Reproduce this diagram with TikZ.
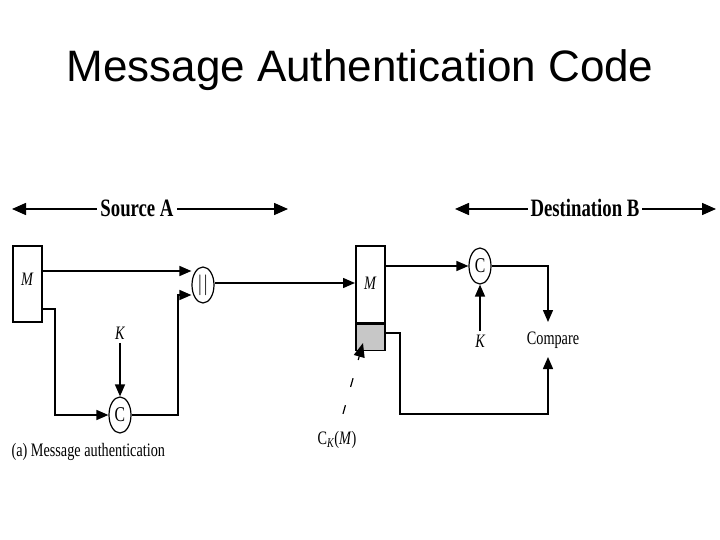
\documentclass[tikz,border=0pt]{standalone}
\usepackage{fontspec}
\setmainfont{Liberation Serif}
\newfontfamily\titlefont{Liberation Sans}
\newfontfamily\narrowfont[FakeStretch=0.75]{Liberation Serif}
\usetikzlibrary{shapes.geometric,arrows.meta,positioning,calc}

\tikzset{
  tip/.style={-{Triangle[length=12pt,width=10pt]}, line width=1.5pt},
  block/.style={rectangle, draw, line width=1.5pt, minimum width=29pt, inner sep=0pt},
  func/.style={ellipse, draw, line width=1.2pt, minimum width=22pt, minimum height=36pt, inner sep=0pt, font=\narrowfont\fontsize{21}{21}\selectfont},
  lbl/.style={font=\narrowfont\itshape\fontsize{19}{19}\selectfont},
  txt/.style={font=\narrowfont\fontsize{19}{19}\selectfont},
  party/.style={font=\narrowfont\bfseries\fontsize{25}{25}\selectfont, fill=white, inner sep=3pt},
  both/.style={{Triangle[length=14pt,width=12pt]}-{Triangle[length=14pt,width=12pt]}, line width=1.5pt}
}

\begin{document}
\begin{tikzpicture}[x=1pt, y=-1pt]
    \useasboundingbox (0,0) rectangle (720,540);
    % Title
    \node[font=\titlefont\fontsize{44}{44}\selectfont] (title) at (360,70) {Message Authentication Code};

    % Parties
    \coordinate (srcl) at (12,209);
    \coordinate (srcr) at (288,209);
    \draw[both] (srcl) -- (srcr);
    \node[party] (src) at (137,208) {Source A};
    \coordinate (dstl) at (455,209);
    \coordinate (dstr) at (716,209);
    \draw[both] (dstl) -- (dstr);
    \node[party] (dst) at (585,208) {Destination B};

    % Source side
    \node[block, minimum height=76pt, anchor=north west] (msg) at (12,245) {};
    \node[lbl] (msgl) at (27,279) {M};
    \node[func] (cat) at (203,285) {$||$};
    \node[func] (mac) at (120,415) {C};
    \node[lbl] (key) at (120,333) {K};
    \node[txt, anchor=west] (cap) at (8,452) {(a) Message authentication};

    % Destination side
    \node[block, minimum height=77pt, anchor=north west] (rmsg) at (355,245) {};
    \node[block, minimum height=26pt, fill=black!22, anchor=north] (rtag) at (rmsg.south) {};
    \node[lbl] (rmsgl) at (370,283) {M};
    \node[func] (rmac) at (480,266) {C};
    \node[lbl] (rkey) at (480,341) {K};
    \node[txt] (cmp) at (553,340) {Compare};
    \node[txt] (tag) at (337,440) {C\textsubscript{\itshape K}(\textit{M})};
    \coordinate (tagtip) at (363,343);

    % Arrows
    \draw[tip] (msg.east |- 0,271) -- (cat.west |- 0,271);
    \draw[tip] (msg.east |- 0,309) -- (55,309) |- (mac.west);
    \draw[tip] (key) -- (mac.north);
    \draw[tip] (mac.east) -- (178,415) |- (cat.west |- 0,295);
    \draw[tip] (cat.east |- 0,283) -- (rmsg.west |- 0,283);
    \draw[tip] (rmsg.east |- rmac) -- (rmac.west);
    \draw[tip] (rkey.north) -- (rmac.south);
    \draw[tip] (rmac.east) -| (548,322);
    \draw[tip] (rtag.east |- 0,333) -- (400,333) |- (548,414) -- (548,357);
    \draw[line width=1.2pt, dash pattern=on 9pt off 19pt, -{Triangle[length=14pt,width=11pt]}] (tag.north) ++(6,-14) -- (tagtip);
\end{tikzpicture}
\end{document}
